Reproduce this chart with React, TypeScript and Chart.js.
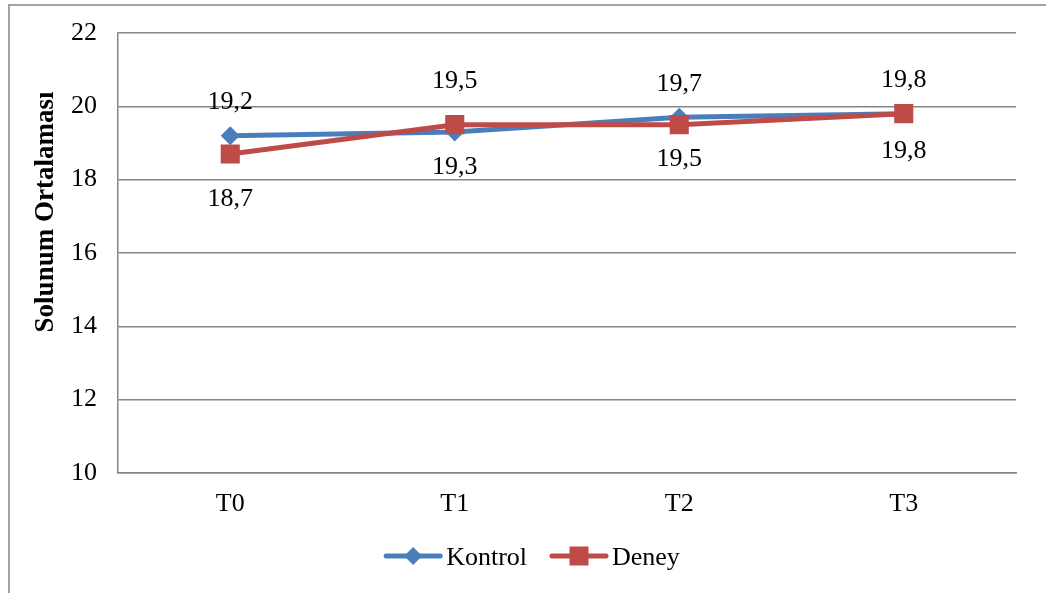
import React, { useEffect, useRef } from 'react';
import { Chart, registerables } from 'chart.js';

Chart.register(...registerables);

// ---- data ----
const categories = ['T0', 'T1', 'T2', 'T3'];
const kontrolValues = [19.2, 19.3, 19.7, 19.8];
const deneyValues = [18.7, 19.5, 19.5, 19.8];
const seriesNames = ['Kontrol', 'Deney'];
const yMin = 10;
const yMax = 22;
const yStep = 2;
const yAxisTitle = 'Solunum Ortalaması';

// ---- style (label offsets in px relative to point) ----
const kontrolLabelDy = [-35, 33, -35, -35];
const deneyLabelDy = [43, -45, 33, 36];

const FONT = "'Liberation Serif', 'Times New Roman', serif";
const FS = 26;
const BLUE = '#4A7EBB';
const RED = '#BE4B48';

const fmt = (v: number) => v.toFixed(1).replace('.', ',');

function drawMarker(ctx: CanvasRenderingContext2D, kind: string, x: number, y: number, color: string) {
  ctx.save();
  ctx.fillStyle = color;
  ctx.beginPath();
  if (kind === 'diamond') {
    const r = 9;
    ctx.moveTo(x, y - r);
    ctx.lineTo(x + r, y);
    ctx.lineTo(x, y + r);
    ctx.lineTo(x - r, y);
    ctx.closePath();
  } else {
    const h = 9.5;
    ctx.rect(x - h, y - h, 2 * h, 2 * h);
  }
  ctx.fill();
  ctx.restore();
}

const decorPlugin = {
  id: 'decor',
  beforeDraw(chart: any) {
    const ctx = chart.ctx as CanvasRenderingContext2D;
    ctx.save();
    ctx.strokeStyle = '#a3a3a3';
    ctx.lineWidth = 2;
    ctx.strokeRect(9, 5, 3000, 3000);
    ctx.restore();
  },
  afterDatasetsDraw(chart: any) {
    const ctx = chart.ctx as CanvasRenderingContext2D;
    ctx.save();
    ctx.font = `${FS}px ${FONT}`;
    ctx.fillStyle = '#000';
    ctx.textAlign = 'center';
    ctx.textBaseline = 'alphabetic';
    const offs = [kontrolLabelDy, deneyLabelDy];
    chart.data.datasets.forEach((ds: any, di: number) => {
      const meta = chart.getDatasetMeta(di);
      meta.data.forEach((el: any, i: number) => {
        const v = ds.data[i];
        ctx.fillText(fmt(v), el.x, el.y + offs[di][i] + FS * 0.33);
      });
    });
    ctx.restore();
  },
  afterDraw(chart: any) {
    const ctx = chart.ctx as CanvasRenderingContext2D;
    // y axis title
    ctx.save();
    ctx.font = `bold 27px ${FONT}`;
    ctx.fillStyle = '#000';
    ctx.textAlign = 'center';
    ctx.textBaseline = 'middle';
    ctx.translate(46, 212);
    ctx.rotate(-Math.PI / 2);
    ctx.fillText(yAxisTitle, 0, 0);
    ctx.restore();

    // legend
    ctx.save();
    ctx.font = `${FS}px ${FONT}`;
    const lineLen = 54;
    const textGap = 6;
    const itemGap = 25;
    const kinds = ['diamond', 'square'];
    const items = chart.data.datasets.map((ds: any, i: number) => ({
      label: ds.label,
      color: ds.borderColor,
      kind: kinds[i],
      w: lineLen + textGap + ctx.measureText(ds.label).width,
    }));
    const total = items.reduce((s: number, it: any) => s + it.w, 0) + itemGap * (items.length - 1);
    let x = 533 - total / 2;
    const y = 556;
    items.forEach((it: any) => {
      ctx.strokeStyle = it.color;
      ctx.lineWidth = 5;
      ctx.lineCap = 'round';
      ctx.beginPath();
      ctx.moveTo(x, y);
      ctx.lineTo(x + lineLen, y);
      ctx.stroke();
      drawMarker(ctx, it.kind, x + lineLen / 2, y, it.color);
      ctx.fillStyle = '#000';
      ctx.textAlign = 'left';
      ctx.textBaseline = 'alphabetic';
      ctx.fillText(it.label, x + lineLen + textGap, y + FS * 0.33);
      x += it.w + itemGap;
    });
    ctx.restore();
  },
};

export default function App() {
  const ref = useRef<HTMLCanvasElement | null>(null);

  useEffect(() => {
    if (!ref.current) return;
    const chart = new Chart(ref.current, {
      type: 'line',
      data: {
        labels: categories,
        datasets: [
          {
            label: seriesNames[0],
            data: kontrolValues,
            borderColor: BLUE,
            backgroundColor: BLUE,
            borderWidth: 5,
            pointStyle: 'rectRot',
            pointRadius: 9.5,
            pointBorderWidth: 0,
            pointBackgroundColor: BLUE,
            tension: 0,
            order: 1,
          },
          {
            label: seriesNames[1],
            data: deneyValues,
            borderColor: RED,
            backgroundColor: RED,
            borderWidth: 5,
            pointStyle: 'rect',
            pointRadius: 13.5,
            pointBorderWidth: 0,
            pointBackgroundColor: RED,
            tension: 0,
            order: 0,
          },
        ],
      },
      options: {
        responsive: false,
        animation: false,
        devicePixelRatio: 1,
        layout: { padding: { left: 0, top: 33, right: 30, bottom: 70 } },
        plugins: {
          legend: { display: false },
          tooltip: { enabled: false },
        },
        scales: {
          x: {
            offset: true,
            grid: { display: false, drawTicks: false },
            border: { display: true, color: '#868686', width: 1.5 },
            ticks: {
              color: '#000',
              font: { family: FONT, size: FS },
              padding: 16,
              maxRotation: 0,
            },
            afterFit: (s: any) => {
              s.height = 50;
              s.paddingLeft = 0;
              s.paddingRight = 0;
            },
          },
          y: {
            min: yMin,
            max: yMax,
            grid: { color: '#868686', lineWidth: 1.5, drawTicks: false },
            border: { display: true, color: '#868686', width: 1.5 },
            ticks: {
              stepSize: yStep,
              color: '#000',
              font: { family: FONT, size: FS },
              padding: 21,
            },
            afterFit: (s: any) => {
              s.width = 118;
              s.paddingTop = 0;
              s.paddingBottom = 0;
            },
          },
        },
      },
      plugins: [decorPlugin],
    });
    return () => chart.destroy();
  }, []);

  return (
    <div style={{ position: 'absolute', left: 0, top: 0, width: 1046, height: 593, background: '#fff' }}>
      <canvas ref={ref} width={1046} height={593} style={{ display: 'block', width: 1046, height: 593 }} />
    </div>
  );
}
